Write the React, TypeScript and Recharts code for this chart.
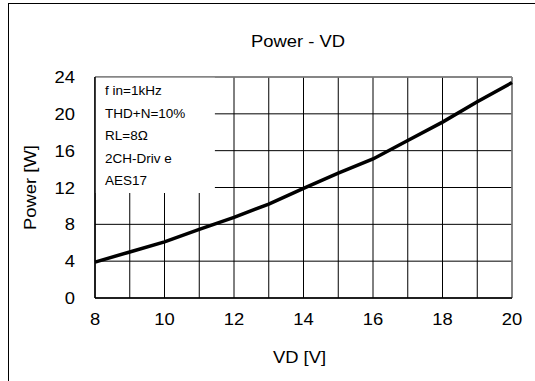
import { LineChart, Line, XAxis, YAxis, CartesianGrid, ReferenceArea, ReferenceLine } from 'recharts';

const VD = [8, 9, 10, 11, 12, 13, 14, 15, 16, 17, 18, 19, 20];
const POWER = [3.9, 5.0, 6.1, 7.45, 8.75, 10.2, 11.9, 13.55, 15.1, 17.1, 19.1, 21.3, 23.4];
const X_TICKS = [8, 9, 10, 11, 12, 13, 14, 15, 16, 17, 18, 19, 20];
const Y_TICKS = [0, 4, 8, 12, 16, 20, 24];
const NOTES = ['f in=1kHz', 'THD+N=10%', 'RL=8Ω', '2CH-Driv e', 'AES17'];

const data = VD.map((vd, i) => ({ vd, power: POWER[i] }));

const FONT = '"Liberation Sans", Arial, sans-serif';
const SX = 1.15;

const Stretch = ({ x, y, anchor, size, children, rotate = 0 }: any) => (
  <text
    transform={`translate(${x} ${y}) rotate(${rotate}) scale(${SX} 1)`}
    x={0}
    y={0}
    textAnchor={anchor}
    fontSize={size}
    fill="#000"
    fontFamily={FONT}
  >
    {children}
  </text>
);

const XTick = ({ x, y, payload }: any) => {
  const v = payload.value;
  if (v % 2 !== 0) return null;
  return <Stretch x={x} y={y + 25} anchor="middle" size={16}>{v}</Stretch>;
};

const YTick = ({ x, y, payload }: any) => (
  <Stretch x={x - 18} y={y + 6} anchor="end" size={16}>{payload.value}</Stretch>
);

const Notes = ({ viewBox }: any) => {
  if (!viewBox) return null;
  return (
    <g>
      {NOTES.map((t, i) => (
        <text key={t} x={viewBox.x + 10} y={viewBox.y + 18 + i * 22.5} fontSize={13.5} fill="#000" fontFamily={FONT}>
          {t}
        </text>
      ))}
    </g>
  );
};

const YLabel = ({ viewBox }: any) => {
  if (!viewBox) return null;
  return (
    <Stretch x={viewBox.x + 36} y={viewBox.y + viewBox.height / 2} anchor="middle" size={16} rotate={-90}>
      Power [W]
    </Stretch>
  );
};

const XLabel = ({ viewBox }: any) => {
  if (!viewBox) return null;
  return (
    <Stretch x={viewBox.x + viewBox.width / 2 - 4} y={viewBox.y + 65} anchor="middle" size={16}>
      VD [V]
    </Stretch>
  );
};

export default function App() {
  return (
    <div style={{ position: 'absolute', left: 0, top: 0, width: 535, height: 381, overflow: 'hidden', background: '#fff', fontFamily: FONT }}>
      <div style={{ position: 'absolute', left: 8, top: 3, width: 600, height: 500, borderLeft: '1.5px solid #000', borderTop: '1.5px solid #000' }} />
      <div style={{ position: 'absolute', left: 0, top: 0 }}>
        <LineChart width={535} height={381} data={data} margin={{ top: 77, right: 23, left: 0, bottom: 0 }}>
          <CartesianGrid stroke="#000" strokeWidth={1} />
          <XAxis
            dataKey="vd"
            type="number"
            domain={[8, 20]}
            ticks={X_TICKS}
            tickLine={false}
            tickSize={0}
            height={83}
            axisLine={{ stroke: '#000', strokeWidth: 1.5 }}
            tick={<XTick />}
            label={<XLabel />}
          />
          <YAxis
            type="number"
            domain={[0, 24]}
            ticks={Y_TICKS}
            width={95}
            tickLine={false}
            tickSize={0}
            axisLine={{ stroke: '#000', strokeWidth: 1.5 }}
            tick={<YTick />}
            label={<YLabel />}
          />
          <ReferenceArea x1={8} x2={11.45} y1={11.4} y2={24} fill="#fff" fillOpacity={1} stroke="none" label={<Notes />} />
          <ReferenceLine y={24} stroke="#888" strokeWidth={1.5} />
          <ReferenceLine x={20} stroke="#888" strokeWidth={1.5} />
          <Line type="linear" dataKey="power" stroke="#000" strokeWidth={3.5} dot={false} isAnimationActive={false} />
        </LineChart>
      </div>
      <svg width={535} height={60} style={{ position: 'absolute', left: 0, top: 0 }}>
        <Stretch x={298} y={47} anchor="middle" size={16}>Power - VD</Stretch>
      </svg>
    </div>
  );
}
